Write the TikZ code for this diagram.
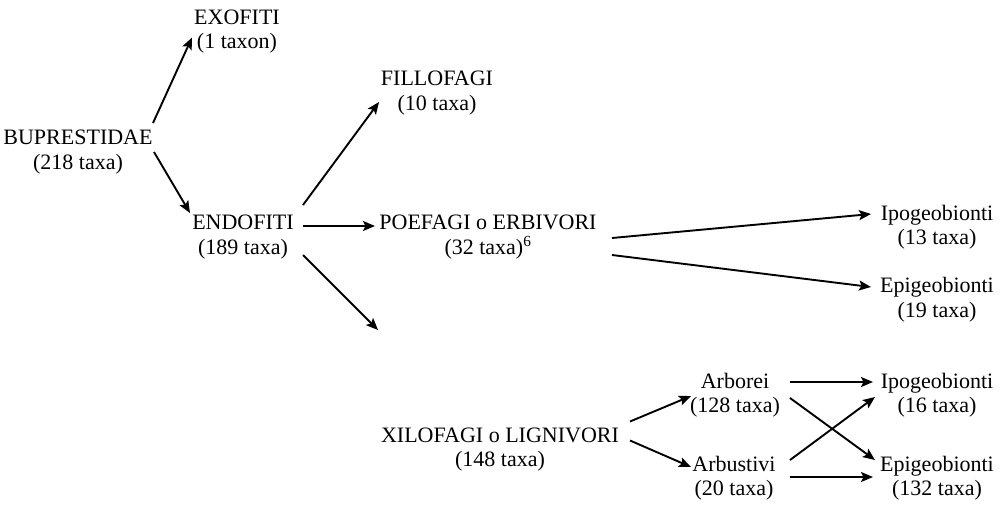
\documentclass[tikz,border=0pt]{standalone}
\usepackage{fontspec}
\setmainfont{Liberation Serif}
\usetikzlibrary{arrows.meta,calc}
\begin{document}
\begin{tikzpicture}[x=1pt,y=-1pt,
  lbl/.style={align=center,inner sep=0pt,font=\fontsize{22}{24.5}\selectfont},
  arr/.style={line width=1.9pt,-{Stealth[length=12pt,width=10pt,inset=2.5pt]}}]
\useasboundingbox (0,0) rectangle (1004,507);
\node[lbl] (exo) at (237,31.5) {EXOFITI\\(1 taxon)};
\node[lbl] (bup) at (78,152) {BUPRESTIDAE\\(218 taxa)};
\node[lbl] (fil) at (437,93) {FILLOFAGI\\(10 taxa)};
\node[lbl] (endo) at (243,237) {ENDOFITI\\(189 taxa)};
\node[lbl] (poe) at (488,237) {POEFAGI o ERBIVORI\\(32 taxa)\textsuperscript{6}};
\node[lbl] (ipoa) at (937,227) {Ipogeobionti\\(13 taxa)};
\node[lbl] (epia) at (937,299.5) {Epigeobionti\\(19 taxa)};
\node[lbl] (xil) at (500,449.5) {XILOFAGI o LIGNIVORI\\(148 taxa)};
\node[lbl] (arbo) at (735,395) {Arborei\\(128 taxa)};
\node[lbl] (arbu) at (734,478) {Arbustivi\\(20 taxa)};
\node[lbl] (ipob) at (937,395) {Ipogeobionti\\(16 taxa)};
\node[lbl] (epib) at (937,478) {Epigeobionti\\(132 taxa)};
\draw[arr] ($(bup)+(75,-29)$) -- ($(exo)+(-45,6)$);
\draw[arr] ($(bup)+(76,0)$) -- ($(endo)+(-53,-24)$);
\draw[arr] ($(endo)+(60,-32)$) -- ($(fil)+(-58,9)$);
\draw[arr] ($(endo)+(60,-11)$) -- ($(poe)+(-113,-11)$);
\draw[arr] ($(endo)+(60,18)$) -- ($(xil)+(-122,-119.5)$);
\draw[arr] ($(poe)+(124,1)$) -- ($(ipoa)+(-66,-13)$);
\draw[arr] ($(poe)+(124,18)$) -- ($(epia)+(-66,-12.5)$);
\draw[arr] ($(xil)+(130,-28)$) -- ($(arbo)+(-44,1)$);
\draw[arr] ($(xil)+(130,-9)$) -- ($(arbu)+(-43,-11)$);
\draw[arr] ($(arbo)+(55,-13)$) -- ($(ipob)+(-64,-13)$);
\draw[arr] ($(arbo)+(55,3)$) -- ($(epib)+(-62,-18)$);
\draw[arr] ($(arbu)+(56,-18)$) -- ($(ipob)+(-62,2)$);
\draw[arr] ($(arbu)+(56,-1)$) -- ($(epib)+(-64,-1)$);
\end{tikzpicture}
\end{document}
